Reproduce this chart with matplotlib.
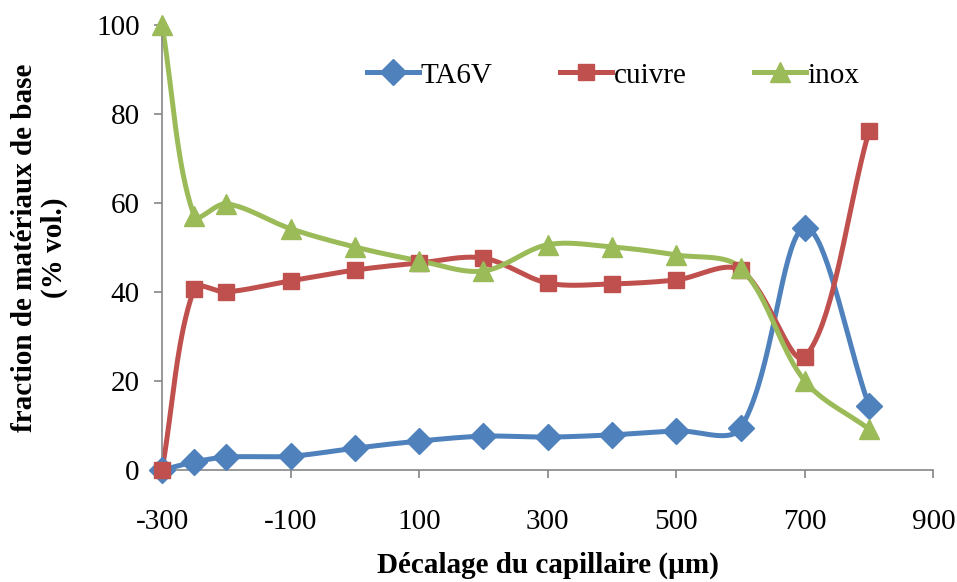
import numpy as np
import matplotlib.pyplot as plt

plt.rcParams['font.family'] = ['Liberation Serif', 'DejaVu Serif']
plt.rcParams['axes.unicode_minus'] = False

# offsets (µm)
x_offset = [-300, -250, -200, -100, 0, 100, 200, 300, 400, 500, 600, 700, 800]

# fraction of base material (% vol.)
ta6v = [0, 1.8, 2.9, 3.1, 4.9, 6.5, 7.6, 7.4, 7.9, 8.8, 9.4, 54.4, 14.4]
cuivre = [0, 40.7, 40.0, 42.5, 44.9, 46.5, 47.6, 42.0, 41.8, 42.7, 44.9, 25.4, 76.2]
inox = [100, 57.1, 59.8, 54.2, 50.1, 47.0, 44.7, 50.6, 50.1, 48.3, 45.4, 20.0, 9.2]

# rough pixel scale of the axes, used so the smoothing behaves like on screen
SX, SY = 771 / 1200, 445 / 100


def smooth(xs, ys, n=40):
    # spreadsheet-style smoothed line: cubic bezier per segment,
    # tangents scaled by neighbouring segment lengths (screen space)
    p = np.column_stack([np.asarray(xs) * SX, np.asarray(ys) * SY]).astype(float)
    p = np.vstack([p[0], p, p[-1]])
    t = np.linspace(0, 1, n)[:, None]
    out = []
    for i in range(1, len(p) - 2):
        p0, p3 = p[i], p[i + 1]
        d_prev = np.linalg.norm(p[i] - p[i - 1])
        d_cur = np.linalg.norm(p[i + 1] - p[i])
        d_next = np.linalg.norm(p[i + 2] - p[i + 1])
        r1 = d_cur / (d_prev + d_cur) if d_prev + d_cur > 0 else 0
        r2 = d_cur / (d_cur + d_next) if d_cur + d_next > 0 else 0
        c1 = p0 + (p[i + 1] - p[i - 1]) * r1 / 3
        c2 = p3 - (p[i + 2] - p[i]) * r2 / 3
        seg = ((1 - t) ** 3) * p0 + 3 * ((1 - t) ** 2) * t * c1 \
            + 3 * (1 - t) * t ** 2 * c2 + t ** 3 * p3
        out.append(seg)
    out = np.vstack(out)
    return out[:, 0] / SX, out[:, 1] / SY


fig = plt.figure(figsize=(9.57, 5.82), dpi=100)
ax = fig.add_axes([0.1693, 0.1924, 0.806, 0.765])

series = [
    (ta6v, '#4F81BD', 'D', 13, 'TA6V'),
    (cuivre, '#C0504D', 's', 12, 'cuivre'),
    (inox, '#9BBB59', '^', 14, 'inox'),
]
for ys, col, mk, ms, lab in series:
    sx, sy = smooth(x_offset, ys)
    ax.plot(sx, sy, color=col, lw=3.6, solid_capstyle='round', zorder=2,
            clip_on=False)
    ax.plot(x_offset, ys, ls='none', marker=mk, ms=ms, color=col, zorder=3,
            clip_on=False)
    ax.plot([], [], color=col, lw=3.6, marker=mk, ms=ms, label=lab)

ax.set_xlim(-300, 900)
ax.set_ylim(0, 100)
ax.set_xticks(range(-300, 901, 200))
ax.set_yticks(range(0, 101, 20))
ax.tick_params(labelsize=21, direction='out', length=6, width=1.2,
               color='#868686')
ax.tick_params(axis='x', pad=22)
ax.tick_params(axis='y', pad=10)
for s in ['top', 'right']:
    ax.spines[s].set_visible(False)
for s in ['left', 'bottom']:
    ax.spines[s].set_color('#868686')
    ax.spines[s].set_linewidth(1.2)

ax.set_xlabel('Décalage du capillaire (µm)', fontsize=21, fontweight='bold',
              labelpad=12)
ax.set_ylabel('fraction de matériaux de base\n(% vol.)', fontsize=21,
              fontweight='bold', labelpad=20, linespacing=1.15)

ax.legend(loc='upper center', bbox_to_anchor=(0.585, 0.975), ncol=3,
          frameon=False, fontsize=21, handlelength=1.8, columnspacing=2.3,
          handletextpad=0.05)

fig.savefig('out.png', dpi=100)
